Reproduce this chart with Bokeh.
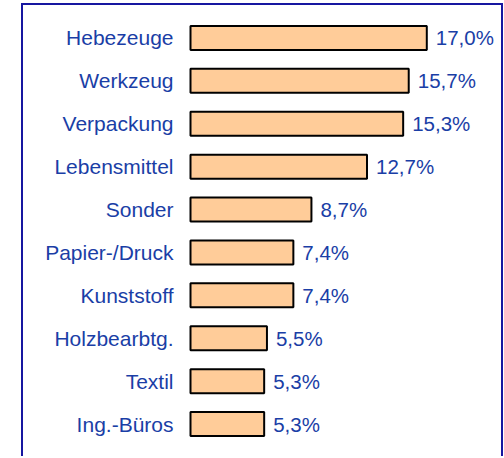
from bokeh.plotting import figure
from bokeh.models import ColumnDataSource, FactorRange, Range1d
from bokeh.embed import file_html
from bokeh.resources import INLINE
from bokeh.core.properties import value

categories = ["Hebezeuge", "Werkzeug", "Verpackung", "Lebensmittel", "Sonder",
              "Papier-/Druck", "Kunststoff", "Holzbearbtg.", "Textil", "Ing.-Büros"]
shares = [17.0, 15.7, 15.3, 12.7, 8.7, 7.4, 7.4, 5.5, 5.3, 5.3]
share_labels = [f"{v:.1f}%".replace(".", ",") for v in shares]

TEXT_COLOR = "#1a3ea6"
BORDER_COLOR = "#1616a0"
BAR_FILL = "#ffcc99"

src = ColumnDataSource(dict(cat=categories, val=shares, lab=share_labels))

W = 482
p = figure(width=W, height=453, output_backend="svg", toolbar_location=None,
           y_range=FactorRange(factors=list(reversed(categories)), range_padding=0),
           x_range=Range1d(-167 / 13.9, (W - 167) / 13.9),
           min_border_left=0, min_border_right=0, min_border_top=11, min_border_bottom=13)
p.axis.visible = False
p.grid.visible = False
p.outline_line_color = None
p.background_fill_color = "white"
p.border_fill_color = "white"

p.hbar(y="cat", right="val", left=0, height=0.56, source=src,
       fill_color=BAR_FILL, line_color="black", line_width=2)

p.text(x=0, y="cat", text="cat", source=src, x_offset=-17,
       text_align="right", text_baseline="middle", text_color=TEXT_COLOR,
       text_font=value("Liberation Sans"), text_font_size="21px")
p.text(x="val", y="cat", text="lab", source=src, x_offset=9,
       text_align="left", text_baseline="middle", text_color=TEXT_COLOR,
       text_font=value("Liberation Sans"), text_font_size="20.5px")

p.styles = {"margin-left": "21px", "margin-top": "3px",
            "border": f"2px solid {BORDER_COLOR}", "border-bottom": "none"}

open("out.html", "w").write(file_html(p, INLINE))
